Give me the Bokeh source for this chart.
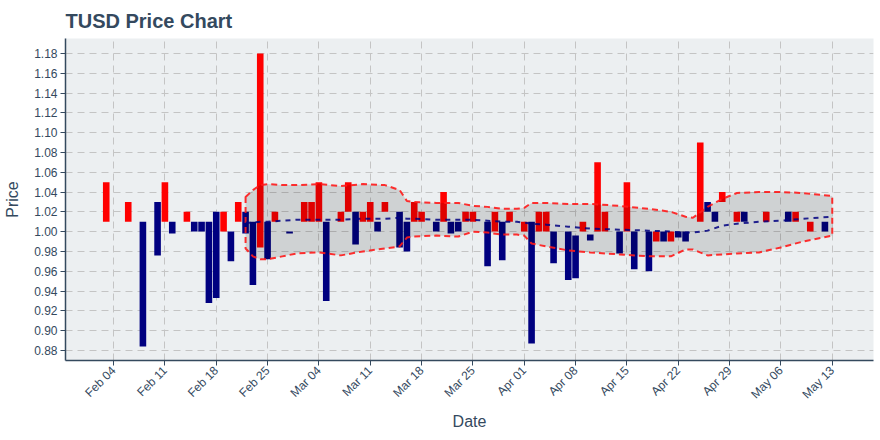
import math
import pandas as pd
from bokeh.plotting import figure
from bokeh.models import Range1d, FixedTicker, DatetimeTickFormatter, ColumnDataSource, CustomJSTickFormatter
from bokeh.embed import file_html
from bokeh.resources import INLINE

# ---- data ----
bar_dates = ["2019-02-03", "2019-02-06", "2019-02-08", "2019-02-10", "2019-02-11", "2019-02-12",
             "2019-02-14", "2019-02-15", "2019-02-16", "2019-02-17", "2019-02-18", "2019-02-19",
             "2019-02-20", "2019-02-21", "2019-02-22", "2019-02-23", "2019-02-24", "2019-02-25",
             "2019-02-26", "2019-02-28", "2019-03-02", "2019-03-03", "2019-03-04", "2019-03-05",
             "2019-03-07", "2019-03-08", "2019-03-09", "2019-03-10", "2019-03-11", "2019-03-12",
             "2019-03-13", "2019-03-15", "2019-03-16", "2019-03-17", "2019-03-18", "2019-03-20",
             "2019-03-21", "2019-03-22", "2019-03-23", "2019-03-24", "2019-03-25", "2019-03-27",
             "2019-03-28", "2019-03-29", "2019-03-30", "2019-04-01", "2019-04-02", "2019-04-03",
             "2019-04-04", "2019-04-05", "2019-04-07", "2019-04-08", "2019-04-09", "2019-04-10",
             "2019-04-11", "2019-04-12", "2019-04-14", "2019-04-15", "2019-04-16", "2019-04-18",
             "2019-04-19", "2019-04-20", "2019-04-21", "2019-04-22", "2019-04-23", "2019-04-25",
             "2019-04-26", "2019-04-27", "2019-04-28", "2019-04-30", "2019-05-01", "2019-05-04",
             "2019-05-07", "2019-05-08", "2019-05-10", "2019-05-12"]
opens = [1.01, 1.01, 1.01, 1.03, 1.01, 1.01,
         1.01, 1.01, 1.01, 1.01, 1.02, 1.00,
         1.00, 1.01, 1.02, 1.01, 0.984, 1.01,
         1.01, 1.00, 1.01, 1.01, 1.01, 1.01,
         1.01, 1.02, 1.02, 1.01, 1.01, 1.01,
         1.02, 1.02, 1.01, 1.01, 1.01, 1.01,
         1.01, 1.01, 1.01, 1.01, 1.01, 1.01,
         1.00, 1.01, 1.01, 1.00, 1.01, 1.00,
         1.00, 1.00, 1.00, 0.996, 1.00, 0.997,
         1.00, 1.00, 1.00, 1.00, 1.00, 1.00,
         0.99, 1.00, 0.99, 1.00, 1.00, 1.01,
         1.03, 1.02, 1.03, 1.01, 1.02, 1.01,
         1.02, 1.01, 1.00, 1.01]
closes = [1.05, 1.03, 0.884, 0.976, 1.05, 0.998,
          1.02, 1.00, 1.00, 0.928, 0.933, 1.02,
          0.97, 1.03, 0.998, 0.946, 1.18, 0.972,
          1.02, 0.998, 1.03, 1.03, 1.05, 0.93,
          1.02, 1.05, 0.987, 1.02, 1.03, 1.00,
          1.03, 0.984, 0.98, 1.03, 1.02, 1.00,
          1.04, 0.998, 1.00, 1.02, 1.02, 0.965,
          1.02, 0.971, 1.02, 1.01, 0.887, 1.02,
          1.02, 0.968, 0.951, 0.953, 1.01, 0.991,
          1.07, 1.02, 0.978, 1.05, 0.962, 0.96,
          1.00, 0.99, 1.00, 0.994, 0.99, 1.09,
          1.02, 1.01, 1.04, 1.02, 1.01, 1.02,
          1.01, 1.02, 1.01, 1.00]

band_dates = ["2019-02-22", "2019-02-23", "2019-02-24", "2019-02-25", "2019-02-27", "2019-03-01",
              "2019-03-04", "2019-03-07", "2019-03-10", "2019-03-13", "2019-03-15", "2019-03-16",
              "2019-03-17", "2019-03-20", "2019-03-23", "2019-03-25", "2019-03-27", "2019-03-29",
              "2019-03-31", "2019-04-01", "2019-04-02", "2019-04-04", "2019-04-07", "2019-04-10",
              "2019-04-14", "2019-04-18", "2019-04-21", "2019-04-23", "2019-04-24", "2019-04-26",
              "2019-04-28", "2019-04-30", "2019-05-03", "2019-05-06", "2019-05-09", "2019-05-13"]
upper_band = [1.035, 1.042, 1.047, 1.048, 1.047, 1.047, 1.048, 1.046, 1.048, 1.047, 1.042, 1.031,
              1.030, 1.029, 1.029, 1.026, 1.025, 1.023, 1.023, 1.024, 1.029, 1.029, 1.028, 1.028,
              1.026, 1.023, 1.020, 1.015, 1.014, 1.025, 1.033, 1.039, 1.040, 1.040, 1.039, 1.036]
middle_band = [1.009, 1.009, 1.010, 1.010, 1.011, 1.012, 1.012, 1.012, 1.013, 1.013, 1.014, 1.013,
               1.013, 1.012, 1.012, 1.012, 1.011, 1.010, 1.010, 1.009, 1.008, 1.007, 1.005, 1.003,
               1.002, 1.001, 1.000, 0.999, 0.999, 1.001, 1.006, 1.008, 1.010, 1.011, 1.013, 1.015]
lower_band = [0.983, 0.975, 0.972, 0.972, 0.975, 0.978, 0.979, 0.976, 0.980, 0.983, 0.985, 0.994,
              0.995, 0.996, 0.995, 1.000, 0.999, 0.997, 0.997, 0.996, 0.988, 0.985, 0.981, 0.979,
              0.977, 0.975, 0.975, 0.982, 0.982, 0.976, 0.977, 0.978, 0.979, 0.984, 0.990, 0.996]

x_tick_dates = ["2019-02-04", "2019-02-11", "2019-02-18", "2019-02-25", "2019-03-04", "2019-03-11",
                "2019-03-18", "2019-03-25", "2019-04-01", "2019-04-08", "2019-04-15", "2019-04-22",
                "2019-04-29", "2019-05-06", "2019-05-13"]
y_ticks = [0.88, 0.90, 0.92, 0.94, 0.96, 0.98, 1.00, 1.02, 1.04, 1.06, 1.08, 1.10, 1.12, 1.14, 1.16, 1.18]

TEXT = "#34495E"
FONT = "Liberation Sans"
UP = "#FF0000"
DOWN = "#000080"

X_START = pd.Timestamp("2019-01-28 10:40")
X_END = pd.Timestamp("2019-05-18 15:00")
Y_START, Y_END = 0.8698, 1.1951

# ---- build ----
bd = pd.to_datetime(bar_dates)
colors = [UP if c > o else DOWN for o, c in zip(opens, closes)]
src = ColumnDataSource(dict(
    x=bd,
    top=[max(o, c) for o, c in zip(opens, closes)],
    bottom=[min(o, c) for o, c in zip(opens, closes)],
    color=colors,
))

p = figure(width=880, height=440, output_backend="svg", toolbar_location=None,
           x_axis_type="datetime",
           x_range=Range1d(X_START, X_END),
           y_range=Range1d(Y_START, Y_END),
           title="TUSD Price Chart")
p.min_border_left = 65
p.min_border_right = 7
p.min_border_top = 37
p.min_border_bottom = 80
p.background_fill_color = "#ECEFF1"
p.border_fill_color = "white"
p.outline_line_color = None

p.title.text_font = FONT
p.title.text_font_size = "20px"
p.title.text_font_style = "bold"
p.title.text_color = TEXT
p.title.align = "left"
p.title.offset = 0
if "standoff" in p.title.properties():
    p.title.standoff = (p.title.standoff or 0) + 4

day_ms = 86400000
p.vbar(x="x", top="top", bottom="bottom", width=0.9 * day_ms, fill_color="color",
       line_color=None, source=src)

bdd = pd.to_datetime(band_dates)
px = list(bdd) + list(bdd[::-1])
py = list(upper_band) + list(lower_band[::-1])
p.patch(px, py, fill_color="black", fill_alpha=0.12, line_color="#FF1A1A", line_alpha=0.9,
        line_width=2, line_dash="6 4")
p.line(bdd, middle_band, line_color=DOWN, line_alpha=0.85, line_width=2, line_dash="5 5")

# axes
tick_ms = [int(t.value // 10**6) for t in pd.to_datetime(x_tick_dates)]
p.xaxis.ticker = FixedTicker(ticks=tick_ms)
p.xaxis.formatter = DatetimeTickFormatter(days="%b %d", months="%b %d", hours="%b %d")
p.xaxis.major_label_orientation = math.pi / 4
p.yaxis.ticker = FixedTicker(ticks=y_ticks)
p.yaxis.formatter = CustomJSTickFormatter(code="return tick.toFixed(2);")

for ax in (p.xaxis[0], p.yaxis[0]):
    ax.axis_line_color = TEXT
    ax.axis_line_width = 1.5
    ax.major_tick_line_color = TEXT
    ax.major_tick_out = 5
    ax.major_tick_in = 0
    ax.minor_tick_line_color = None
    ax.major_label_text_font = FONT
    ax.major_label_text_font_size = "12px"
    ax.major_label_text_color = TEXT
    ax.major_label_standoff = 3
    ax.axis_label_text_font = FONT
    ax.axis_label_text_font_size = "16px"
    ax.axis_label_text_font_style = "normal"
    ax.axis_label_text_color = TEXT

p.yaxis.axis_label = "Price"
p.yaxis.axis_label_standoff = 10
p.xaxis.axis_label = "Date"
p.xaxis.axis_label_standoff = 4

for g in (p.xgrid[0], p.ygrid[0]):
    g.grid_line_color = "#C4C4C4"
    g.grid_line_dash = "7 5"
    g.grid_line_width = 1
p.xgrid.ticker = p.xaxis.ticker
p.ygrid.ticker = p.yaxis.ticker

open("out.html", "w").write(file_html(p, INLINE))
